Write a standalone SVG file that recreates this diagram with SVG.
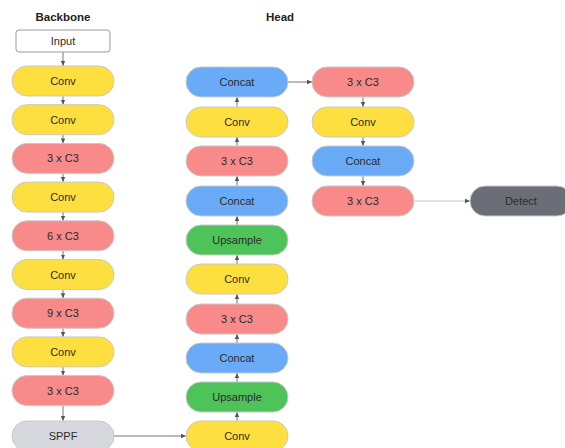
<svg xmlns="http://www.w3.org/2000/svg" width="565" height="448" viewBox="0 0 565 448">
  <style>
    text { font-family: "Liberation Sans", Arial, sans-serif; font-size: 11px; fill: #2b2b2b; text-anchor: middle; dominant-baseline: central; }
    .title { font-weight: bold; font-size: 11.5px; fill: #222; }
    .pill { stroke: #c9c9c9; stroke-width: 1; }
    .conv { fill: #fde03f; }
    .c3 { fill: #f98a8a; }
    .cat { fill: #69abf7; }
    .up { fill: #4dc35a; }
    .sppf { fill: #d6d8dd; }
    .det { fill: #6b6e77; }
    .edge { stroke: #666; stroke-width: 0.9; fill: none; }
    .faint { stroke: #bbb; }
  </style>
  <defs>
    <marker id="ah" markerWidth="6" markerHeight="6" refX="5" refY="3" orient="auto" markerUnits="userSpaceOnUse">
      <path d="M0,0.8 L5,3 L0,5.2 Z" fill="#555"/>
    </marker>
  </defs>
  <rect width="565" height="448" fill="#ffffff"/>

  <text class="title" x="63" y="17">Backbone</text>
  <text class="title" x="280" y="17">Head</text>

  <!-- connectors -->
  <g id="connectors">
    <!-- backbone, top to bottom -->
    <line class="edge" x1="63" y1="52" x2="63" y2="66" marker-end="url(#ah)"/>
    <line class="edge" x1="63" y1="96" x2="63" y2="104.7" marker-end="url(#ah)"/>
    <line class="edge" x1="63" y1="134.7" x2="63" y2="143.4" marker-end="url(#ah)"/>
    <line class="edge" x1="63" y1="173.4" x2="63" y2="182.1" marker-end="url(#ah)"/>
    <line class="edge" x1="63" y1="212.1" x2="63" y2="220.8" marker-end="url(#ah)"/>
    <line class="edge" x1="63" y1="250.8" x2="63" y2="259.5" marker-end="url(#ah)"/>
    <line class="edge" x1="63" y1="289.5" x2="63" y2="298.2" marker-end="url(#ah)"/>
    <line class="edge" x1="63" y1="328.2" x2="63" y2="336.9" marker-end="url(#ah)"/>
    <line class="edge" x1="63" y1="366.9" x2="63" y2="375.6" marker-end="url(#ah)"/>
    <line class="edge" x1="63" y1="405.6" x2="63" y2="421" marker-end="url(#ah)"/>
    <!-- head, bottom to top -->
    <line class="edge" x1="237" y1="421" x2="237" y2="412" marker-end="url(#ah)"/>
    <line class="edge" x1="237" y1="382" x2="237" y2="373" marker-end="url(#ah)"/>
    <line class="edge" x1="237" y1="343" x2="237" y2="334" marker-end="url(#ah)"/>
    <line class="edge" x1="237" y1="304" x2="237" y2="294" marker-end="url(#ah)"/>
    <line class="edge" x1="237" y1="264" x2="237" y2="255" marker-end="url(#ah)"/>
    <line class="edge" x1="237" y1="225" x2="237" y2="216" marker-end="url(#ah)"/>
    <line class="edge" x1="237" y1="186" x2="237" y2="176" marker-end="url(#ah)"/>
    <line class="edge" x1="237" y1="146" x2="237" y2="137" marker-end="url(#ah)"/>
    <line class="edge" x1="237" y1="107" x2="237" y2="97" marker-end="url(#ah)"/>
    <!-- right column, top to bottom -->
    <line class="edge" x1="288" y1="82" x2="312" y2="82" marker-end="url(#ah)"/>
    <line class="edge" x1="363" y1="97" x2="363" y2="107" marker-end="url(#ah)"/>
    <line class="edge" x1="363" y1="137" x2="363" y2="146" marker-end="url(#ah)"/>
    <line class="edge" x1="363" y1="176" x2="363" y2="186" marker-end="url(#ah)"/>
    <line class="edge faint" x1="415" y1="201" x2="470" y2="201" marker-end="url(#ah)"/>
    <!-- SPPF into head -->
    <line class="edge" x1="114" y1="436" x2="186" y2="436" marker-end="url(#ah)"/>
  </g>

  <!-- backbone nodes -->
  <g id="input"><rect x="16" y="30" width="94" height="22" rx="3" fill="#fff" stroke="#999"/><text x="63" y="41">Input</text></g>
  <g id="b_conv1"><rect class="pill conv" x="12" y="66" width="102" height="30" rx="15"/><text x="63" y="81">Conv</text></g>
  <g id="b_conv2"><rect class="pill conv" x="12" y="104.7" width="102" height="30" rx="15"/><text x="63" y="119.7">Conv</text></g>
  <g id="b_c3_1"><rect class="pill c3" x="12" y="143.4" width="102" height="30" rx="15"/><text x="63" y="158.4">3 x C3</text></g>
  <g id="b_conv3"><rect class="pill conv" x="12" y="182.1" width="102" height="30" rx="15"/><text x="63" y="197.1">Conv</text></g>
  <g id="b_c3_2"><rect class="pill c3" x="12" y="220.8" width="102" height="30" rx="15"/><text x="63" y="235.8">6 x C3</text></g>
  <g id="b_conv4"><rect class="pill conv" x="12" y="259.5" width="102" height="30" rx="15"/><text x="63" y="274.5">Conv</text></g>
  <g id="b_c3_3"><rect class="pill c3" x="12" y="298.2" width="102" height="30" rx="15"/><text x="63" y="313.2">9 x C3</text></g>
  <g id="b_conv5"><rect class="pill conv" x="12" y="336.9" width="102" height="30" rx="15"/><text x="63" y="351.9">Conv</text></g>
  <g id="b_c3_4"><rect class="pill c3" x="12" y="375.6" width="102" height="30" rx="15"/><text x="63" y="390.6">3 x C3</text></g>
  <g id="sppf"><rect class="pill sppf" x="12" y="421" width="102" height="30" rx="15"/><text x="63" y="436">SPPF</text></g>

  <!-- head nodes -->
  <g id="h_concat1"><rect class="pill cat" x="186" y="67" width="102" height="30" rx="15"/><text x="237" y="82">Concat</text></g>
  <g id="h_conv1"><rect class="pill conv" x="186" y="107" width="102" height="30" rx="15"/><text x="237" y="122">Conv</text></g>
  <g id="h_c3_1"><rect class="pill c3" x="186" y="146" width="102" height="30" rx="15"/><text x="237" y="161">3 x C3</text></g>
  <g id="h_concat2"><rect class="pill cat" x="186" y="186" width="102" height="30" rx="15"/><text x="237" y="201">Concat</text></g>
  <g id="h_up1"><rect class="pill up" x="186" y="225" width="102" height="30" rx="15"/><text x="237" y="240">Upsample</text></g>
  <g id="h_conv2"><rect class="pill conv" x="186" y="264" width="102" height="30" rx="15"/><text x="237" y="279">Conv</text></g>
  <g id="h_c3_2"><rect class="pill c3" x="186" y="304" width="102" height="30" rx="15"/><text x="237" y="319">3 x C3</text></g>
  <g id="h_concat3"><rect class="pill cat" x="186" y="343" width="102" height="30" rx="15"/><text x="237" y="358">Concat</text></g>
  <g id="h_up2"><rect class="pill up" x="186" y="382" width="102" height="30" rx="15"/><text x="237" y="397">Upsample</text></g>
  <g id="h_conv3"><rect class="pill conv" x="186" y="421" width="102" height="30" rx="15"/><text x="237" y="436">Conv</text></g>

  <!-- output branch -->
  <g id="o_c3_1"><rect class="pill c3" x="312" y="67" width="102" height="30" rx="15"/><text x="363" y="82">3 x C3</text></g>
  <g id="o_conv"><rect class="pill conv" x="312" y="107" width="102" height="30" rx="15"/><text x="363" y="122">Conv</text></g>
  <g id="o_concat"><rect class="pill cat" x="312" y="146" width="102" height="30" rx="15"/><text x="363" y="161">Concat</text></g>
  <g id="o_c3_2"><rect class="pill c3" x="312" y="186" width="102" height="30" rx="15"/><text x="363" y="201">3 x C3</text></g>
  <g id="detect"><rect class="pill det" x="470" y="186" width="102" height="30" rx="15"/><text x="521" y="201">Detect</text></g>
</svg>
